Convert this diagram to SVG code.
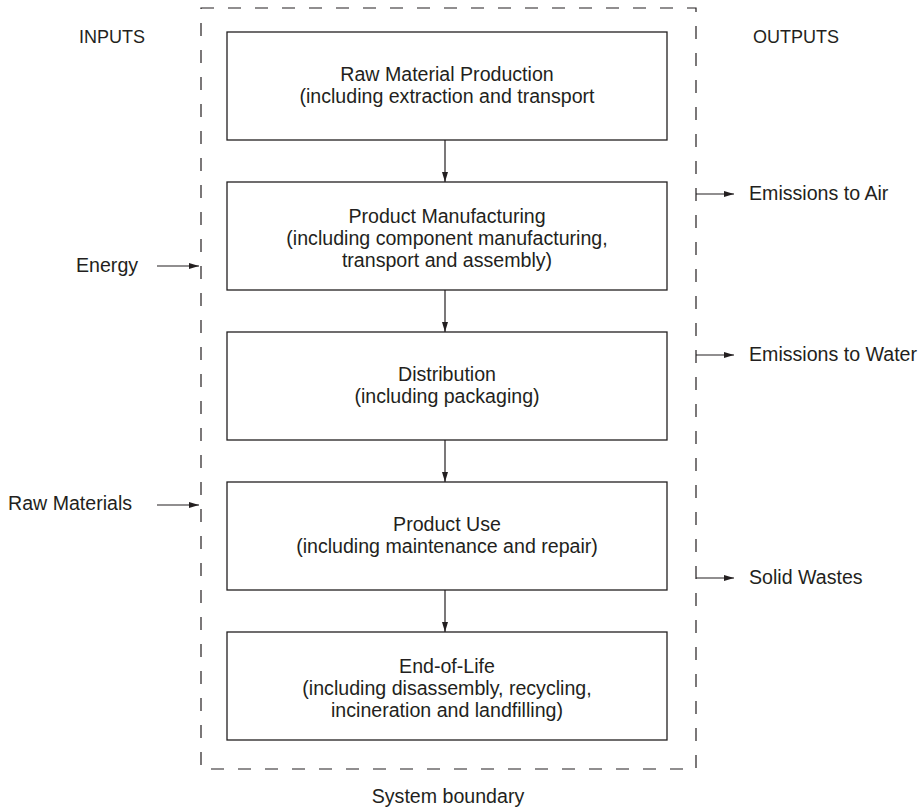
<svg xmlns="http://www.w3.org/2000/svg" width="921" height="808" viewBox="0 0 921 808">
  <defs>
    <marker id="arrow" viewBox="0 0 10 6" refX="10" refY="3" markerWidth="10" markerHeight="6" markerUnits="userSpaceOnUse" orient="auto">
      <path d="M0,0 L10,3 L0,6 Z" fill="#231f20"/>
    </marker>
    <style>
      text { font-family: "Liberation Sans", Arial, sans-serif; font-size: 19.6px; fill: #231f20; }
      .c { text-anchor: middle; }
      .head { font-size: 18px; }
      .box { fill: #ffffff; stroke: #231f20; stroke-width: 1.3; }
      .link { stroke: #231f20; stroke-width: 1.2; fill: none; marker-end: url(#arrow); }
      .boundary { fill: none; stroke: #231f20; stroke-width: 1.2; stroke-dasharray: 13 14; }
    </style>
  </defs>
  <rect width="921" height="808" fill="#ffffff"/>

  <!-- system boundary -->
  <g id="boundary">
    <rect class="boundary" x="201" y="8" width="495" height="761"/>
    <text class="c" x="448" y="803">System boundary</text>
  </g>

  <text class="head c" x="112" y="43">INPUTS</text>
  <text class="head c" x="796" y="43">OUTPUTS</text>

  <g id="raw-material-production">
    <rect class="box" x="227" y="32" width="440" height="108"/>
    <text class="c" x="447" y="81">Raw Material Production</text>
    <text class="c" x="447" y="103">(including extraction and transport</text>
  </g>

  <g id="product-manufacturing">
    <rect class="box" x="227" y="182" width="440" height="108"/>
    <text class="c" x="447" y="223">Product Manufacturing</text>
    <text class="c" x="447" y="245">(including component manufacturing,</text>
    <text class="c" x="447" y="267">transport and assembly)</text>
  </g>

  <g id="distribution">
    <rect class="box" x="227" y="332" width="440" height="108"/>
    <text class="c" x="447" y="381">Distribution</text>
    <text class="c" x="447" y="403">(including packaging)</text>
  </g>

  <g id="product-use">
    <rect class="box" x="227" y="482" width="440" height="108"/>
    <text class="c" x="447" y="531">Product Use</text>
    <text class="c" x="447" y="553">(including maintenance and repair)</text>
  </g>

  <g id="end-of-life">
    <rect class="box" x="227" y="632" width="440" height="108"/>
    <text class="c" x="447" y="673">End-of-Life</text>
    <text class="c" x="447" y="695">(including disassembly, recycling,</text>
    <text class="c" x="447" y="717">incineration and landfilling)</text>
  </g>

  <g id="energy">
    <text x="76" y="272">Energy</text>
  </g>
  <g id="raw-materials">
    <text x="8" y="510">Raw Materials</text>
  </g>
  <g id="emissions-air">
    <text x="749" y="200">Emissions to Air</text>
  </g>
  <g id="emissions-water">
    <text x="749" y="361">Emissions to Water</text>
  </g>
  <g id="solid-wastes">
    <text x="749" y="584">Solid Wastes</text>
  </g>

  <g id="connectors">
    <line class="link" x1="445" y1="140" x2="445" y2="182"/>
    <line class="link" x1="445" y1="290" x2="445" y2="332"/>
    <line class="link" x1="445" y1="440" x2="445" y2="482"/>
    <line class="link" x1="445" y1="590" x2="445" y2="632"/>
    <line class="link" x1="157" y1="266" x2="199" y2="266"/>
    <line class="link" x1="157" y1="505" x2="199" y2="505"/>
    <line class="link" x1="696" y1="194" x2="734" y2="194"/>
    <line class="link" x1="696" y1="355" x2="734" y2="355"/>
    <line class="link" x1="696" y1="578" x2="734" y2="578"/>
  </g>
</svg>
